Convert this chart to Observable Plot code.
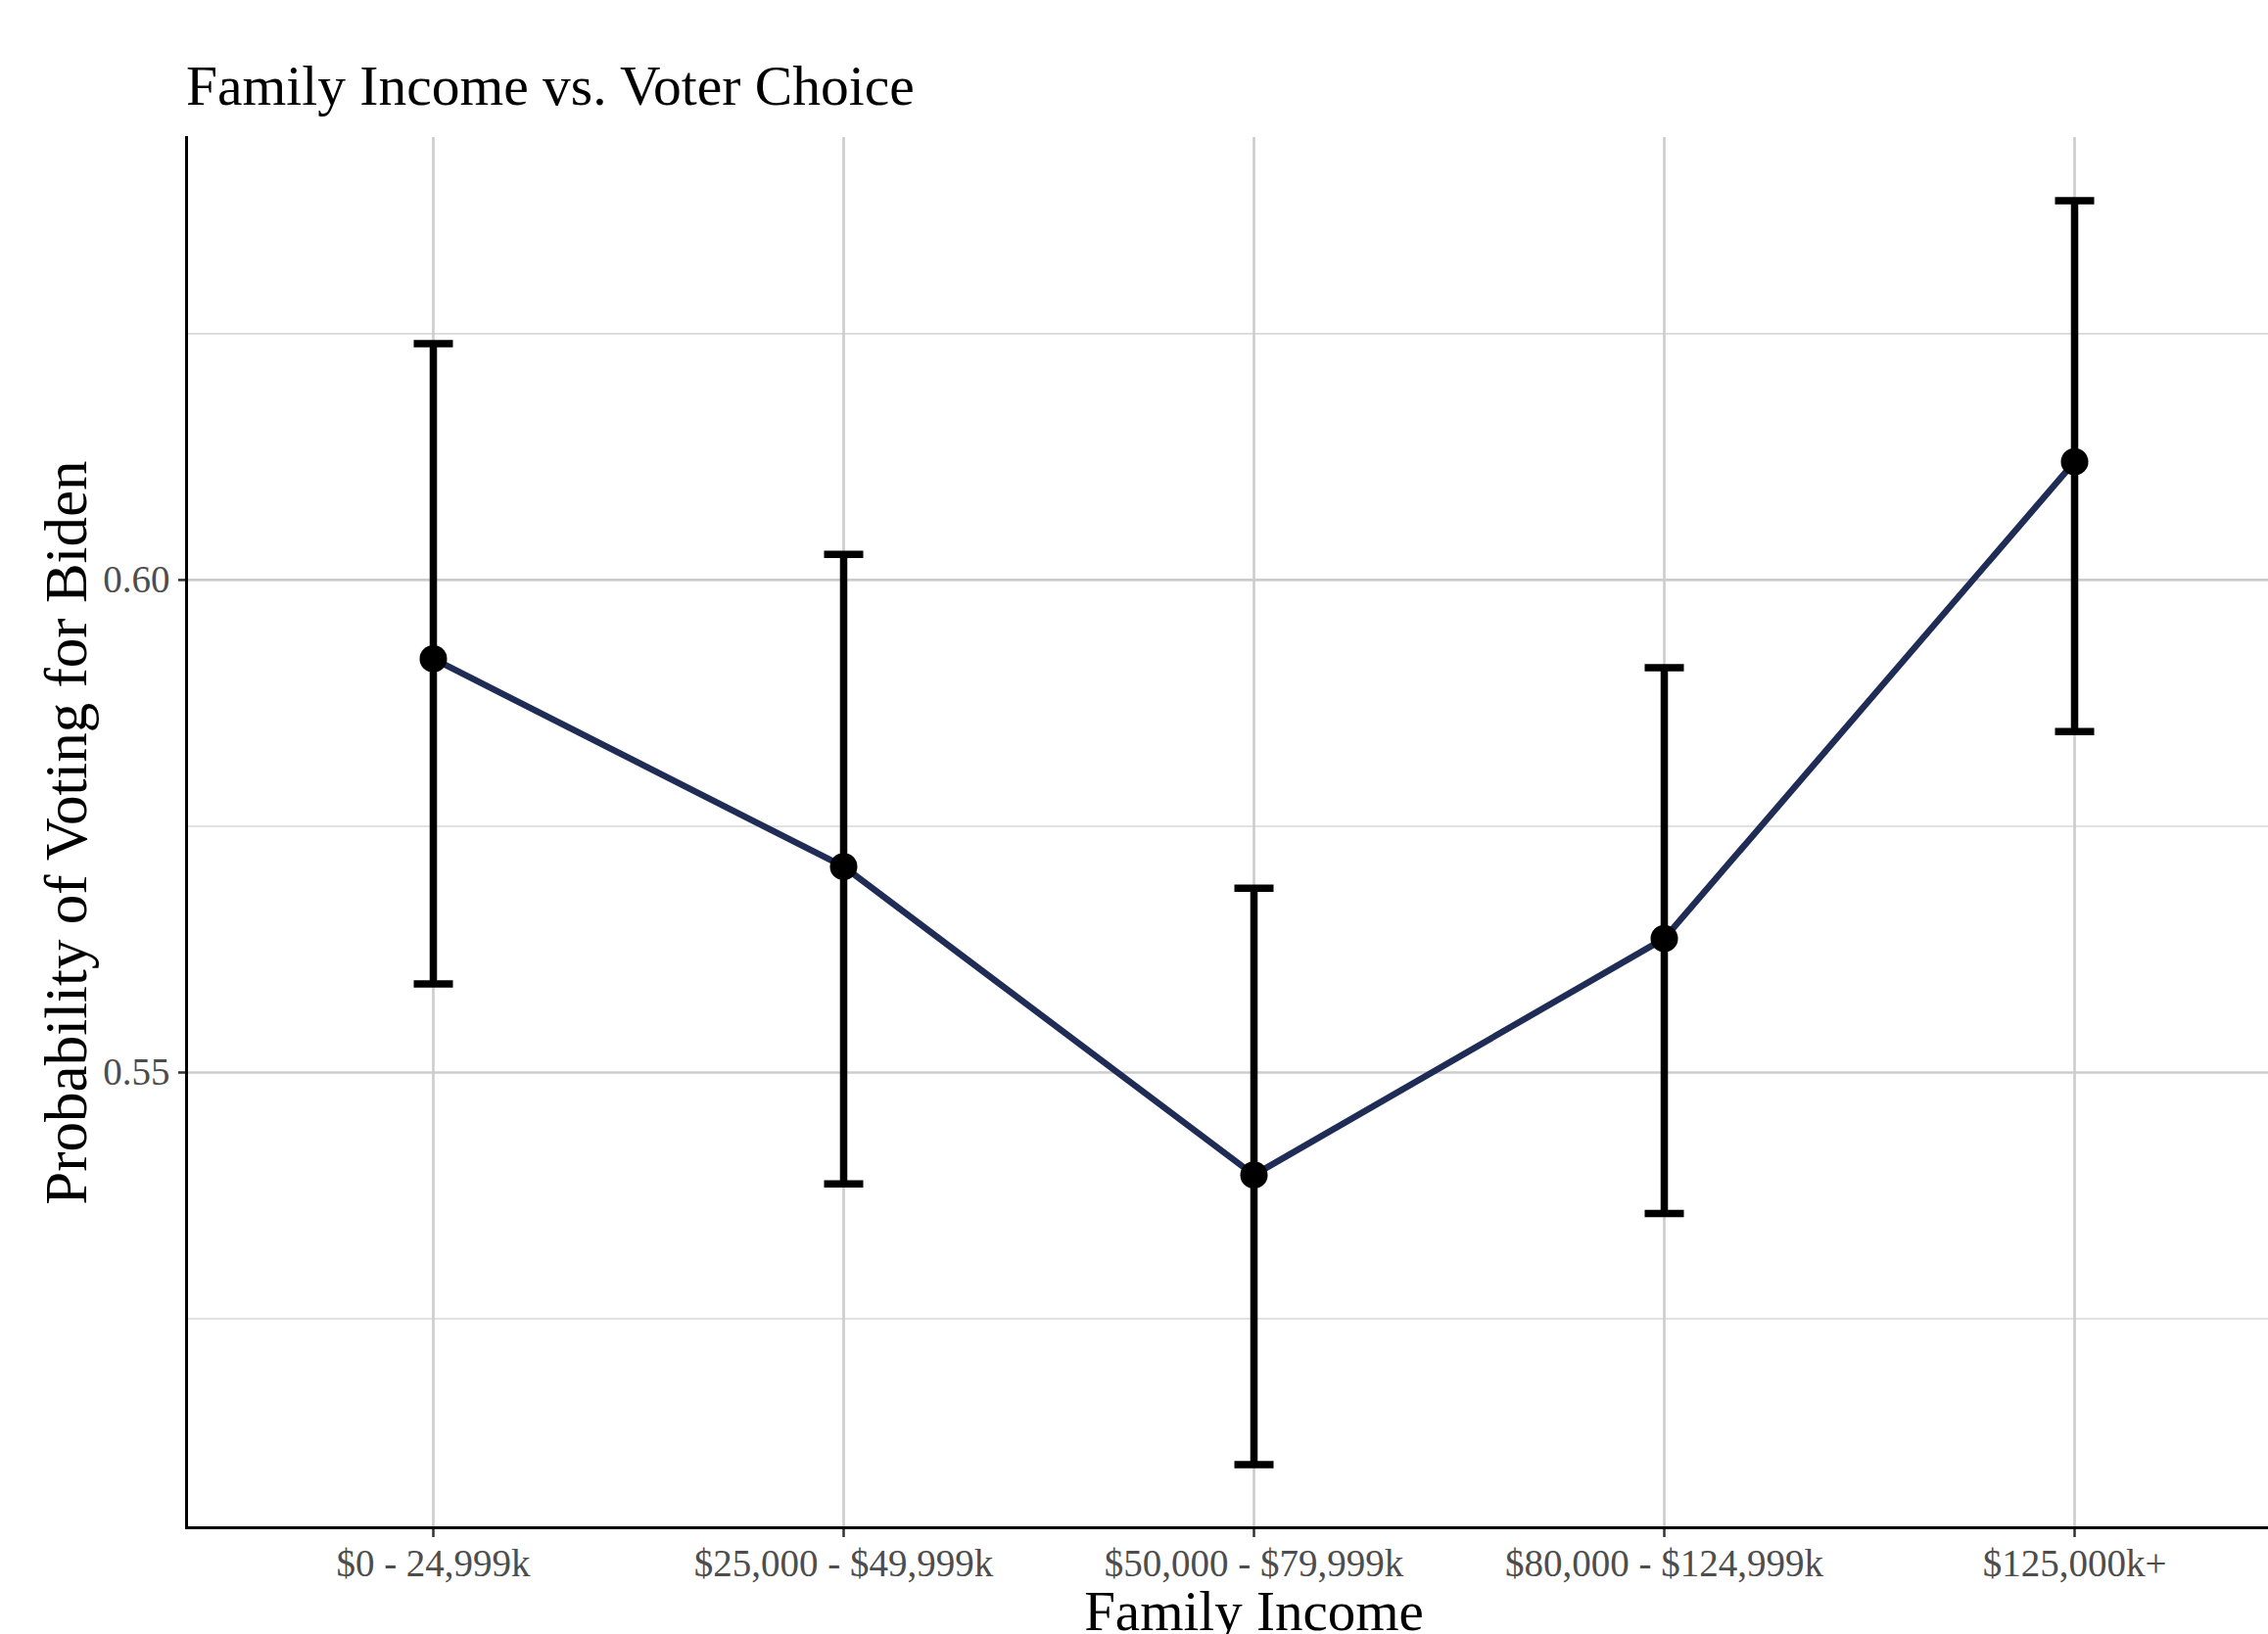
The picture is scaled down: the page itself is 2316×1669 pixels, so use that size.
<!DOCTYPE html>
<html>
<head>
<meta charset="utf-8">
<script src="https://cdn.jsdelivr.net/npm/d3@7"></script>
<script src="https://cdn.jsdelivr.net/npm/@observablehq/plot@0.6"></script>
<style>
  html, body { margin: 0; padding: 0; background: #ffffff; overflow: hidden; }
  #title {
    height: 120px; box-sizing: border-box;
    padding-left: 190px; padding-top: 59px;
    font-family: "Liberation Serif", "Times New Roman", serif;
    font-size: 57.5px; line-height: 1; color: #000;
  }
</style>
</head>
<body>
<div id="title">Family Income vs. Voter Choice</div>
<div id="chart"></div>
<script>
// ---- data ----
const incomes = ["$0 - 24,999k", "$25,000 - $49,999k", "$50,000 - $79,999k", "$80,000 - $124,999k", "$125,000k+"];
const prob  = [0.5920, 0.5709, 0.5396, 0.5636, 0.6120];
const lower = [0.5590, 0.5387, 0.5102, 0.5357, 0.5846];
const upper = [0.6240, 0.6026, 0.5687, 0.5911, 0.6385];
const yMajorTicks = [0.55, 0.60];
const yMinorTicks = [0.525, 0.575, 0.625];

const data = incomes.map((income, i) => ({income, prob: prob[i], lower: lower[i], upper: upper[i]}));

// ggplot-like 5% expansion of the y range
const lo = d3.min(lower), hi = d3.max(upper), ex = (hi - lo) * 0.05;
const yDomain = [lo - ex, hi + ex];

// horizontal cap symbol for error bars
const hbar = { draw(ctx, size) { const h = Math.sqrt(size / Math.PI); ctx.moveTo(-h, 0); ctx.lineTo(h, 0); } };

const font = "'Liberation Serif', 'Times New Roman', serif";

const chart = Plot.plot({
  width: 2316,
  height: 1549,
  marginLeft: 190,
  marginRight: 0,
  marginTop: 20,
  marginBottom: 109,
  style: { fontFamily: font, background: "white", overflow: "visible" },
  x: { type: "point", domain: incomes, padding: 0.6, range: [189, 2371] },
  y: { domain: yDomain },
  marks: [
    Plot.ruleY(yMinorTicks, { stroke: "#d9d9d9", strokeWidth: 1.6 }),
    Plot.ruleY(yMajorTicks, { stroke: "#cccccc", strokeWidth: 2.6 }),
    Plot.ruleX(incomes, { stroke: "#cccccc", strokeWidth: 2.6 }),
    Plot.axisY({ ticks: yMajorTicks, tickFormat: d3.format(".2f"), tickSize: 8, tickPadding: 9,
                 fontSize: 39, fill: "#4d4d4d", stroke: "#333333", strokeWidth: 2.5, label: null }),
    Plot.axisX({ tickSize: 10, tickPadding: 12, fontSize: 39, fill: "#4d4d4d", stroke: "#333333",
                 strokeWidth: 2.5, label: null }),
    Plot.frame({ anchor: "left", stroke: "#000", strokeWidth: 3 }),
    Plot.ruleY([yDomain[0]], { stroke: "#000", strokeWidth: 3 }),
    Plot.line(data, { x: "income", y: "prob", stroke: "#1f2d56", strokeWidth: 6.5 }),
    Plot.ruleX(data, { x: "income", y1: "lower", y2: "upper", stroke: "#000", strokeWidth: 7.5 }),
    Plot.dot(data, { x: "income", y: "lower", symbol: hbar, r: 20, fill: "none", stroke: "#000", strokeWidth: 7.5 }),
    Plot.dot(data, { x: "income", y: "upper", symbol: hbar, r: 20, fill: "none", stroke: "#000", strokeWidth: 7.5 }),
    Plot.dot(data, { x: "income", y: "prob", r: 14, fill: "#000", stroke: "none" }),
    Plot.text(["Family Income"], { x: () => incomes[2], frameAnchor: "bottom", dy: 104, fontSize: 57, fill: "#000" }),
    Plot.text(["Probability of Voting for Biden"], { frameAnchor: "left", textAnchor: "middle", dx: -122, rotate: -90, fontSize: 61, fill: "#000" })
  ]
});
document.getElementById("chart").appendChild(chart);
</script>
</body>
</html>
